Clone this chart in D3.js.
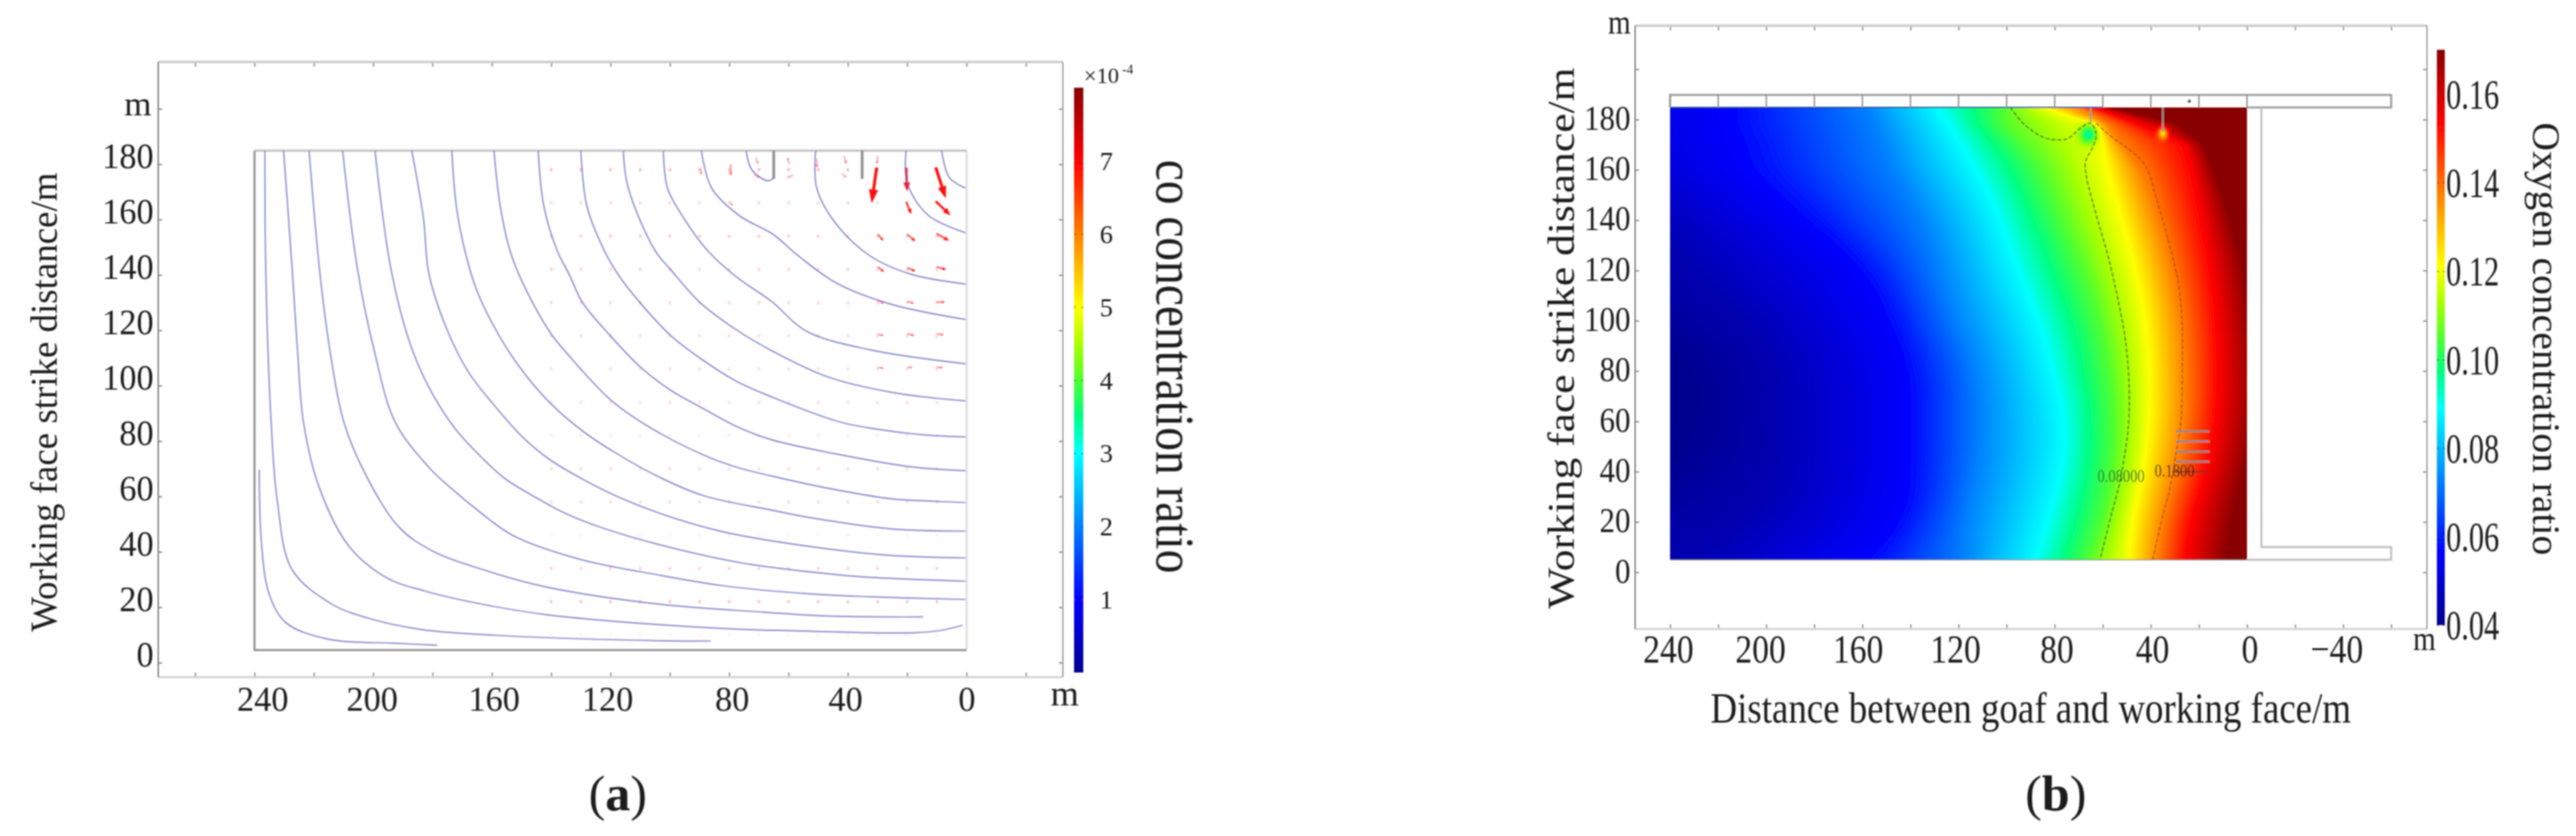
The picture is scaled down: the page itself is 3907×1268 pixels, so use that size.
<!DOCTYPE html>
<html lang="en">
<head>
    <meta charset="utf-8">
    <title>CO and oxygen concentration in the goaf</title>
    <script src="https://d3js.org/d3.v7.min.js"></script>
    <style type="text/css">
        body { margin: 0; background: #fff; }
        text { font-family: "Liberation Serif", "Times New Roman", serif; fill: #1c1c1c; }
    </style>
</head>
<body>
<svg></svg>
<script type="text/javascript">
    // ---- tick values ----
    var aXTicks = d3.range(-20, 261, 20),
        aXLabels = [240, 200, 160, 120, 80, 40, 0],
        bXTicks = d3.range(-60, 241, 20),
        bXLabels = [240, 200, 160, 120, 80, 40, 0, -40],
        yTicks = d3.range(0, 201, 20),
        yLabels = d3.range(0, 181, 20),
        aBarTicks = [1, 2, 3, 4, 5, 6, 7],
        bBarTicks = [0.04, 0.06, 0.08, 0.10, 0.12, 0.14, 0.16];

    // ---- panel a: CO contour lines, [distance, strike] ----
    var coContours = [
        [[238.4,69.7],[237.7,44],[235.1,24.9],[229.4,14.4],[215.3,8.5],[192.6,7],[178.4,6.3]],
        [[236.5,184.9],[236.2,142.1],[234.4,86.9],[232.3,58.3],[227.3,33.5],[213.9,21.1],[202.5,16.3],[184.1,12],[155.8,9.7],[103.6,7.9],[86.3,7.8]],
        [[230.2,184.9],[227.3,142.1],[225.5,112.9],[223.5,86.9],[218.1,63],[208.2,42.1],[195.4,30.6],[182.7,25.9],[165.7,21.6],[141.6,17.3],[103.6,13.7],[75.3,12],[54,11.4],[32.7,10.8],[17.2,10.8],[8.7,11.6],[1.3,13.5]],
        [[221.6,184.9],[218.1,142.1],[214.6,112.9],[209.9,86.9],[202.5,67.8],[191.2,48.8],[179.8,40.2],[162.8,33.5],[141.6,27.3],[103.6,21.1],[68.2,18.2],[46.9,16.8],[14.6,16.5]],
        [[210.3,184.9],[205.3,142.1],[199.7,112.9],[192.6,86.9],[181.3,70.6],[173.9,63.1],[163.6,54],[152.9,45.9],[130.3,37.3],[103.6,31.6],[82.3,27.8],[54,24.9],[32.7,23.8],[0.3,22.8]],
        [[199.4,184.9],[194,142.1],[187.5,115],[181.3,99.6],[172.4,84.5],[162.8,73.4],[155.4,66.3],[144.3,59.1],[135.4,54],[123.2,48.8],[103.6,42.6],[75.3,35.9],[46.9,32.1],[32.7,30.8],[0.3,29.4]],
        [[187,184.9],[183,160],[181.3,140.9],[175.4,121],[168,105.1],[157.6,90.9],[149.5,81.3],[140.6,73.4],[129.5,66.3],[118.4,60.3],[103.6,54],[82.3,47.3],[54,42.1],[25.7,38.7],[0.3,37.8]],
        [[173.5,184.9],[172,165],[169.1,148.8],[165.4,135.3],[159.9,122.6],[151.7,108.3],[140.6,94],[129.5,83.7],[118.4,75.8],[103.6,67],[88.7,60.3],[65.8,55.1],[54,52.6],[25.7,48.3],[0.3,47.5]],
        [[159.3,184.9],[157.2,165],[153.9,148.8],[149.5,136.9],[140.2,119],[133.9,110.7],[119.9,94.8],[107.3,85.3],[88.7,75],[77.6,70.6],[65.8,67.4],[46.9,63],[25.7,59.2],[11.5,58.3],[0.3,57.8]],
        [[144.4,184.9],[142.5,165],[138,148.8],[133.9,140.1],[129.5,130.1],[120.2,118.2],[109.9,106.7],[99.8,98.4],[88.7,91.7],[77.6,85.3],[65.8,80.5],[39.8,74.5],[18.6,70.7],[0.3,69.3]],
        [[130,184.9],[128,165],[122.1,148.8],[116.9,139.3],[109.9,129.8],[99.8,118.2],[88.7,109.1],[77.6,101.6],[65.8,96],[42.7,86.9],[25.7,83.6],[12.9,82.1],[0.3,81.5]],
        [[115.7,184.9],[114,171.3],[105,148.8],[99.8,142],[89.9,130.1],[77.6,120.2],[65.8,112.7],[46.9,103.2],[24.2,97.4],[0.3,94.5]],
        [[102.2,184.9],[100.8,171.3],[95,160],[87.3,148.8],[77.6,139.3],[65.8,130.5],[54,119.7],[32.7,113],[0.3,107.9]],
        [[89.4,184.9],[85.9,171.3],[76.7,161.5],[65.3,154.7],[56.8,147],[44.1,137.2],[25.7,129.5],[0.3,123.9]],
        [[74.3,184.9],[72.4,178],[67,174],[65,175.1]],
        [[50.9,184.9],[50.5,171.3],[44.1,158.6],[32.7,147],[18.6,140.2],[0.3,136.7]],
        [[20.4,184.9],[20,173.2],[12.9,161.5],[0.3,155.2]],
        [[8.4,184.9],[5.8,175.1],[0.3,171.3]]
    ];

    // red flow arrows: x0, y0, x1, y1
    var strongArrows = [
        [30.3,178.8,32,165.9],[20.4,178.8,20,170.1],[10.4,178.8,7,167.6],[20.4,166.4,18.6,162],[10.4,166.6,5.4,161.5],
        [29.9,154.7,28,152.3],[20,154.7,17.2,152.1],[10.1,154.9,5.8,152.3],
        [29.9,142.9,27.8,141.1],[20,142.6,17.2,141.3],[10.1,142.9,6.8,141.9],
        [29.9,130.6,27.8,129.7],[20,130.4,17.7,129.7],[10.1,130.2,7.2,130.2],
        [29.9,118.6,28,118.1],[20,118.8,17.6,118.1],[10.1,118.8,7.7,118.3],
        [29.9,106.6,28,106.3],[20,106.6,18.3,106.6],[10.1,106.6,8,106.6]
    ];
    var paleArrows = [
        [79.5,180,79.5,175.6],[79.8,166.4,78.8,164.9],[71,182.4,70.3,180],[71.7,176.1,69.6,175.1],
        [59.7,180,60.4,182.4],[58.5,176.1,60.4,175.1],[50.5,182,50.5,178.6],[41.3,182.9,40.5,180],
        [42,176.6,40.5,175.1],[30,182.9,30.2,180],[89.7,178.6,89.4,176.1]
    ];
    // near-zero vectors on the regular grid
    var faintCols = d3.range(10, 141, 10),
        faintRows = [178, 166, 154, 142, 130, 118, 106, 94, 82, 70, 58, 46, 34, 22, 10],
        faintAlpha = [.35, .22, .28, .25, .22, .22, .18, .18, .12, .2, .2, .08, .25, .3, .08];
    // short walls hanging from the top edge: x, end of wall
    var aWalls = [[65, 174.7], [35.2, 174.7]];

    // ---- panel b: oxygen field, distance at which each level is reached per strike row ----
    var fieldRows = [185, 178, 170, 160, 140, 120, 100, 80, 60, 40, 20, 5];
    var isoDeep   = [345, 345, 345, 340, 330, 300, 255, 229, 229, 240, 290, 340],  // 0.040
        isoNavy   = [300, 298, 292, 280, 246, 229, 206, 194, 194, 194, 205, 229],  // 0.045
        isoBlue   = [215, 215, 211, 208, 185, 159, 150, 141, 141, 141, 143, 159],  // 0.05625
        isoAzure  = [159, 155, 152, 148, 135, 128, 122, 112, 112, 112, 118, 118],  // 0.0725
        isoCyan   = [129, 124, 119, 113, 102, 96, 86, 81, 75, 77, 83, 88],         // 0.08875
        isoGreen  = [101, 101, 93, 85, 77, 68, 61, 57, 55, 56, 60, 66],            // 0.105
        isoYellow = [85, 64, 60, 58, 52, 46, 42, 40.5, 40.5, 43, 48, 49],          // 0.12125
        isoOrange = [70, 58, 52, 44, 36.5, 31, 27, 25.5, 25.5, 29.5, 35.5, 37],    // 0.1375
        isoRed    = [64, 45, 26, 23, 19, 15, 12.5, 12, 12.5, 16.5, 24, 25.5],      // 0.15375
        isoDark   = [58, 27, 18, 13.5, 6.4, 0.8, -1.6, -4, -3, 0.8, 6.4, 8.7];     // 0.170
    var isoLevels = [0.04, 0.045, 0.05625, 0.0725, 0.08875, 0.105, 0.12125, 0.1375, 0.15375, 0.17],
        isoTable = [isoDeep, isoNavy, isoBlue, isoAzure, isoCyan, isoGreen, isoYellow, isoOrange, isoRed, isoDark];
    // low oxygen spots at the wall ends: x, y, value, radius x, radius y
    var fieldSpots = [[66, 174, 0.095, 4.2, 4.4], [35, 174.5, 0.125, 2.4, 2.8]];

    var o2LineA = [[98.4,184.8],[92.9,178.3],[84.9,173],[80.2,172],[74.6,172.4],[69.8,176.2],[65.1,178.6],[62.7,174],[64.3,168.7],[67.2,163.3],[66.7,156.9],[62.7,142],[57.9,126],[54,109.9],[50.8,93.8],[49.2,77.8],[49.2,59.7],[50.8,47.2],[53.2,34.6],[56.4,23],[61.1,5.1]],
        o2LineB = [[62.7,178.4],[54.8,172],[48.4,167.7],[42.1,161.3],[37.3,147.4],[32.6,131.3],[28.6,115.3],[27,99.2],[27,77.8],[27.5,59.7],[29.4,48.2],[31.8,34.6],[35.7,19.9],[39.2,5.1]];
    var bWalls = [[65, 179], [35, 175]],
        legendRows = [56, 52, 48, 44, 40];

    // ---- colours ----
    var jetStops = [0, .125, .375, .44, .5, .56, .625, .875, 1],
        jetColors = ["#00008f", "#0000ff", "#00ffff", "#00ff80", "#50ff30", "#a8ff00", "#ffff00", "#ff0000", "#880000"];
    var jet = d3.scaleLinear().domain(jetStops).range(jetColors).clamp(true);

    var svg = d3.select("svg").attr("width", 3907).attr("height", 1268)
        .style("display", "block").style("background", "#fff");
    var defs = svg.append("defs");

    var soft = defs.append("filter").attr("id", "soft")
        .attr("filterUnits", "userSpaceOnUse").attr("x", 0).attr("y", 0).attr("width", 3907).attr("height", 1268);
    soft.append("feGaussianBlur").attr("stdDeviation", 0.9);

    var grad = defs.append("linearGradient").attr("id", "jetBar")
        .attr("x1", 0).attr("y1", 1).attr("x2", 0).attr("y2", 0);
    grad.selectAll("stop").data(jetStops).enter().append("stop")
        .attr("offset", function (d) { return d; })
        .attr("stop-color", function (d, i) { return jetColors[i]; });

    var lineGen = function (x, y) {
        return d3.line().x(function (d) { return x(d[0]); }).y(function (d) { return y(d[1]); })
            .curve(d3.curveCatmullRom.alpha(0.5));
    };

    function addText(g, str, x, y, size, opt) {
        opt = opt || {};
        return g.append("text")
            .attr("transform", "translate(" + x + "," + y + ") rotate(" + (opt.rot || 0) + ") scale(1," + (opt.sy || 1) + ")")
            .attr("text-anchor", opt.anchor || "middle")
            .attr("font-size", size)
            .attr("font-weight", opt.weight || null)
            .text(str);
    }

    // panel caption, the letter is bold and the brackets are not
    function addCaption(g, letter, x, y, size) {
        var t = addText(g, "", x, y, size);
        t.append("tspan").text("(");
        t.append("tspan").attr("font-weight", "bold").text(letter);
        t.append("tspan").text(")");
    }

    function minus(d) {
        return d < 0 ? "\u2212" + Math.abs(d) : String(d);
    }

    // frame around a panel with ticks on all four sides
    function drawFrame(g, x, y, box, cfg) {
        var bottom = g.append("g").attr("transform", "translate(0," + box.bottom + ")")
            .call(d3.axisBottom(x).tickValues(cfg.xTicks).tickSizeInner(-7).tickSizeOuter(0)
                .tickFormat(function (d) { return cfg.xLabels.indexOf(d) >= 0 ? minus(d) : ""; }));
        bottom.selectAll("text")
            .attr("x", 0).attr("y", 0).attr("dy", null)
            .attr("text-anchor", "middle")
            .attr("font-size", cfg.xSize)
            .attr("transform", function (d) {
                return "translate(" + (cfg.xNudge[d] || 0) + "," + cfg.xLabelY + ") scale(1," + cfg.xScaleY + ")";
            });

        var left = g.append("g").attr("transform", "translate(" + box.left + ",0)")
            .call(d3.axisLeft(y).tickValues(yTicks).tickSizeInner(-6).tickSizeOuter(0)
                .tickFormat(function (d) { return yLabels.indexOf(d) >= 0 ? d : ""; }));
        left.selectAll("text")
            .attr("x", 0).attr("y", 0).attr("dy", null)
            .attr("text-anchor", "end")
            .attr("font-size", cfg.ySize)
            .attr("transform", "translate(" + cfg.yLabelDx + "," + cfg.yLabelDy + ") scale(1," + cfg.yScaleY + ")");

        var top = g.append("g").attr("transform", "translate(0," + box.top + ")")
            .call(d3.axisTop(x).tickValues(cfg.xTicks).tickSizeInner(-7).tickSizeOuter(0).tickFormat(""));
        var right = g.append("g").attr("transform", "translate(" + box.right + ",0)")
            .call(d3.axisRight(y).tickValues(yTicks).tickSizeInner(-6).tickSizeOuter(0).tickFormat(""));

        [bottom, left, top, right].forEach(function (a) {
            a.selectAll(".domain").remove();
            a.selectAll("line").attr("stroke", "#666").attr("stroke-width", 1.5);
        });

        // frame edges, heavier on the left as in the picture
        var edges = [
            [box.left, box.top, box.right, box.top, "#c8c8c8", 3.5],
            [box.left, box.bottom, box.right, box.bottom, "#cfcfcf", 3],
            [box.left, box.top, box.left, box.bottom, "#777", 2],
            [box.right, box.top, box.right, box.bottom, "#999", 2]
        ];
        g.selectAll(".edge").data(edges).enter().append("line").attr("class", "edge")
            .attr("x1", function (d) { return d[0]; }).attr("y1", function (d) { return d[1]; })
            .attr("x2", function (d) { return d[2]; }).attr("y2", function (d) { return d[3]; })
            .attr("stroke", function (d) { return d[4]; }).attr("stroke-width", function (d) { return d[5]; });
    }

    function drawBar(g, scale, ticks, barLeft, barWidth, labelX, fmt, size, sy) {
        var range = scale.range();
        g.append("rect").attr("x", barLeft).attr("y", range[1]).attr("width", barWidth)
            .attr("height", range[0] - range[1]).attr("fill", "url(#jetBar)");
        var ax = g.append("g").attr("transform", "translate(" + barLeft + ",0)")
            .call(d3.axisRight(scale).tickValues(ticks).tickSizeInner(barWidth).tickSizeOuter(0).tickFormat(fmt));
        ax.select(".domain").remove();
        ax.selectAll("line").attr("stroke", "#333").attr("stroke-width", 1.2)
            .attr("stroke-dasharray", "3 " + (barWidth - 6) + " 3");
        ax.selectAll("text").attr("x", 0).attr("y", 0).attr("dy", null)
            .attr("text-anchor", "start").attr("font-size", size)
            .attr("transform", "translate(" + (labelX - barLeft) + "," + size * 0.34 * sy + ") scale(1," + sy + ")");
    }

    // ================= panel a =================
    var ax = d3.scaleLinear().domain([240, 0]).range([386, 1466]),
        ay = d3.scaleLinear().domain([0, 200]).range([1005, 165]);
    var aBox = {left: 240, right: 1612, top: 94, bottom: 1027};
    var panelA = svg.append("g").attr("filter", "url(#soft)");

    drawFrame(panelA, ax, ay, aBox, {
        xTicks: aXTicks, xLabels: aXLabels, xSize: 52, xScaleY: 1.02, xLabelY: 51,
        xNudge: {240: 12, 200: -2, 160: 3, 120: -5, 80: 4, 40: -4},
        ySize: 52, yScaleY: 1.05, yLabelDx: -7, yLabelDy: 5
    });

    // domain box
    panelA.append("path")
        .attr("d", "M" + ax(0) + "," + ay(4.5) + "V" + ay(184.9))
        .attr("fill", "none").attr("stroke", "#dcdcdc").attr("stroke-width", 3);
    panelA.append("path")
        .attr("d", "M" + ax(240) + "," + ay(184.9) + "H" + ax(0))
        .attr("fill", "none").attr("stroke", "#c4c4c4").attr("stroke-width", 3.5);
    panelA.append("path")
        .attr("d", "M" + ax(240) + "," + ay(184.9) + "V" + ay(4.5) + "H" + ax(0))
        .attr("fill", "none").attr("stroke", "#8c8c8c").attr("stroke-width", 3);
    panelA.selectAll(".wall").data(aWalls).enter().append("line").attr("class", "wall")
        .attr("x1", function (d) { return ax(d[0]); }).attr("x2", function (d) { return ax(d[0]); })
        .attr("y1", ay(184.9)).attr("y2", function (d) { return ay(d[1]); })
        .attr("stroke", "#8c8c8c").attr("stroke-width", 4);

    // faint vectors
    faintRows.forEach(function (row, i) {
        panelA.append("g").selectAll("rect").data(faintCols).enter().append("rect")
            .attr("x", function (d) { return ax(d) - 2; })
            .attr("y", ay(row) - 2.5)
            .attr("width", 4).attr("height", 5)
            .attr("fill", "#ff5060").attr("opacity", faintAlpha[i]);
    });

    function drawArrow(g, d, alpha) {
        var x0 = ax(d[0]), y0 = ay(d[1]), x1 = ax(d[2]), y1 = ay(d[3]);
        var len = Math.hypot(x1 - x0, y1 - y0),
            w = Math.min(4.5, 1 + len / 14),
            hl = Math.min(26, len * 0.38), hw = Math.min(8, 1 + len * 0.11),
            ux = (x1 - x0) / len, uy = (y1 - y0) / len;
        g.append("line").attr("x1", x0).attr("y1", y0).attr("x2", x1 - ux * hl * 0.5).attr("y2", y1 - uy * hl * 0.5)
            .attr("stroke", "#ff1010").attr("stroke-width", w).attr("opacity", alpha);
        var bx = x1 - ux * hl, by = y1 - uy * hl;
        g.append("path")
            .attr("d", "M" + x1 + "," + y1 + "L" + (bx - uy * hw) + "," + (by + ux * hw) + "L" + (bx + uy * hw) + "," + (by - ux * hw) + "Z")
            .attr("fill", "#ff1010").attr("opacity", alpha);
    }
    paleArrows.forEach(function (d) { drawArrow(panelA, d, 0.4); });
    strongArrows.forEach(function (d, i) { drawArrow(panelA, d, i < 5 ? 1 : (i < 11 ? 0.8 : 0.55)); });

    // contour lines
    panelA.append("g").selectAll("path").data(coContours).enter().append("path")
        .attr("d", lineGen(ax, ay))
        .attr("fill", "none").attr("stroke", "#5c5cc0").attr("stroke-width", 1.7).attr("opacity", 0.85);

    addText(panelA, "m", 209, 175, 53);
    addText(panelA, "m", 1615, 1070, 55);
    addText(panelA, "Working face strike distance/m", 86, 610, 56, {rot: -90, sy: 1.02});
    addText(panelA, "co concentration ratio", 1754, 556, 72, {rot: 90, sy: 1.15});

    // colour bar a
    var aBar = d3.scaleLinear().domain([0, 8]).range([1020, 133]);
    drawBar(panelA, aBar, aBarTicks, 1629, 14, 1668, function (d) { return d; }, 40, 1);
    addText(panelA, "\u00d710", 1644, 126, 34, {anchor: "start"});
    addText(panelA, "-4", 1702, 112, 20, {anchor: "start"});
    addCaption(panelA, "a", 937, 1229, 76);

    // ================= panel b =================
    var bx = d3.scaleLinear().domain([240, 0]).range([2533, 3408]),
        by = d3.scaleLinear().domain([0, 200]).range([868, 105]);
    var bBox = {left: 2480, right: 3681, top: 39, bottom: 954};
    var bBar = d3.scaleLinear().domain([0.04, 0.17]).range([948, 75.5]);

    // paint the field row by row on a canvas, then place it as an svg image
    var fx0 = Math.round(bx(240)), fx1 = Math.round(bx(0)),
        fy0 = Math.round(by(184.8)), fy1 = Math.round(by(5));
    var canvas = document.createElement("canvas");
    canvas.width = fx1 - fx0;
    canvas.height = fy1 - fy0;
    var ctx = canvas.getContext("2d"),
        img = ctx.createImageData(canvas.width, canvas.height);
    var rowScales = isoTable.map(function (col) {
        return d3.scaleLinear().domain(fieldRows).range(col);
    });
    // averaged over a window of rows so the iso lines bend without corners,
    // narrow window close to the top edge where the field changes fast
    function isoAt(strike) {
        var win = strike > 165 ? 1.5 : Math.min(12, 1.5 + (165 - strike) * 0.6);
        return rowScales.map(function (s) {
            return d3.mean(d3.range(-4, 5), function (k) { return s(strike + k / 4 * win); });
        });
    }
    var barT = d3.scaleLinear().domain([0.04, 0.17]).range([0, 1]).clamp(true);
    for (var py = 0; py < canvas.height; py++) {
        var strike = by.invert(fy0 + py + 0.5);
        var valueAt = d3.scaleLinear().domain(isoAt(strike)).range(isoLevels).clamp(true);
        for (var px = 0; px < canvas.width; px++) {
            var dist = bx.invert(fx0 + px + 0.5);
            var val = valueAt(dist);
            fieldSpots.forEach(function (s) {
                var dx = (dist - s[0]) / s[3], dy = (strike - s[1]) / s[4];
                var w = Math.exp(-(dx * dx + dy * dy) * 1.4);
                val = val * (1 - w) + s[2] * w;
            });
            var c = d3.rgb(jet(barT(val))), k = (py * canvas.width + px) * 4;
            img.data[k] = c.r; img.data[k + 1] = c.g; img.data[k + 2] = c.b; img.data[k + 3] = 255;
        }
    }
    ctx.putImageData(img, 0, 0);

    var panelB = svg.append("g").attr("filter", "url(#soft)");
    panelB.append("image").attr("x", fx0).attr("y", fy0)
        .attr("width", canvas.width).attr("height", canvas.height)
        .attr("preserveAspectRatio", "none")
        .attr("href", canvas.toDataURL());

    drawFrame(panelB, bx, by, bBox, {
        xTicks: bXTicks, xLabels: bXLabels, xSize: 51, xScaleY: 1.2, xLabelY: 51,
        xNudge: {240: -3, 200: -9, 160: -7, 120: -5, 80: 3, 40: 2, 0: 4, "-40": -10},
        ySize: 47, yScaleY: 1.12, yLabelDx: -7, yLabelDy: 15
    });

    // roadway outlines around the field
    var outline = d3.line().x(function (d) { return bx(d[0]); }).y(function (d) { return by(d[1]); });
    var roadTop = [[240, 184.8], [240, 189.8], [-60, 189.8], [-60, 184.8], [0, 184.8]],
        roadLow = [[-6, 184.8], [-6, 10], [-60, 10], [-60, 5], [0, 5]];
    panelB.append("path").attr("d", outline(roadTop)).attr("fill", "none").attr("stroke", "#9a9a9a").attr("stroke-width", 3);
    panelB.append("path").attr("d", outline(roadLow)).attr("fill", "none").attr("stroke", "#bdbdbd").attr("stroke-width", 3);
    panelB.append("line").attr("x1", bx(240)).attr("x2", bx(60)).attr("y1", by(184.8)).attr("y2", by(184.8))
        .attr("stroke", "#2a4a90").attr("stroke-width", 2);
    panelB.append("line").attr("x1", bx(240)).attr("x2", bx(0)).attr("y1", by(5)).attr("y2", by(5))
        .attr("stroke", "#666").attr("stroke-width", 1.5).attr("opacity", 0.7);
    panelB.append("g").selectAll("line").data(d3.range(0, 241, 20)).enter().append("line")
        .attr("x1", function (d) { return bx(d); }).attr("x2", function (d) { return bx(d); })
        .attr("y1", by(189.8)).attr("y2", by(184.8))
        .attr("stroke", "#8a8a8a").attr("stroke-width", 2);
    panelB.append("circle").attr("cx", bx(24)).attr("cy", by(187.3)).attr("r", 2.5).attr("fill", "#666");
    panelB.selectAll(".wall").data(bWalls).enter().append("line").attr("class", "wall")
        .attr("x1", function (d) { return bx(d[0]); }).attr("x2", function (d) { return bx(d[0]); })
        .attr("y1", by(184.8)).attr("y2", function (d) { return by(d[1]); })
        .attr("stroke", "#9a9a9a").attr("stroke-width", 2.5);

    // contour lines and their labels
    panelB.append("path").attr("d", lineGen(bx, by)(o2LineA)).attr("fill", "none")
        .attr("stroke", "#4a7018").attr("stroke-width", 2).attr("stroke-dasharray", "6 3");
    panelB.append("path").attr("d", lineGen(bx, by)(o2LineB)).attr("fill", "none")
        .attr("stroke", "#b04c08").attr("stroke-width", 1.8).attr("stroke-dasharray", "6 3");
    panelB.selectAll(".legendLine").data(legendRows).enter().append("line").attr("class", "legendLine")
        .attr("x1", bx(29.7)).attr("x2", bx(15.6))
        .attr("y1", function (d) { return by(d); }).attr("y2", function (d) { return by(d); })
        .attr("stroke", function (d, i) { return i == 4 ? "#333" : "#8a8a8a"; })
        .attr("stroke-width", function (d, i) { return i == 4 ? 1.5 : 3; });
    addText(panelB, "0.08000", 3217, 731, 22, {sy: 1.2}).style("fill", "#2a6a30");
    addText(panelB, "0.1800", 3298, 723, 22, {sy: 1.2});

    addText(panelB, "m", 2456, 51, 44, {sy: 1.2});
    addText(panelB, "m", 3677, 986, 44, {sy: 1.2});
    addText(panelB, "Working face strike distance/m", 2387, 513, 66, {rot: -90, sy: 0.85});
    addText(panelB, "Distance between goaf and working face/m", 3080, 1096, 56, {sy: 1.18});
    addText(panelB, "Oxygen concentration ratio", 3842, 514, 60, {rot: 90});

    drawBar(panelB, bBar, bBarTicks, 3696, 12, 3710, d3.format(".2f"), 46, 1.4);
    addCaption(panelB, "b", 3118, 1229, 76);
</script>
</body>
</html>
